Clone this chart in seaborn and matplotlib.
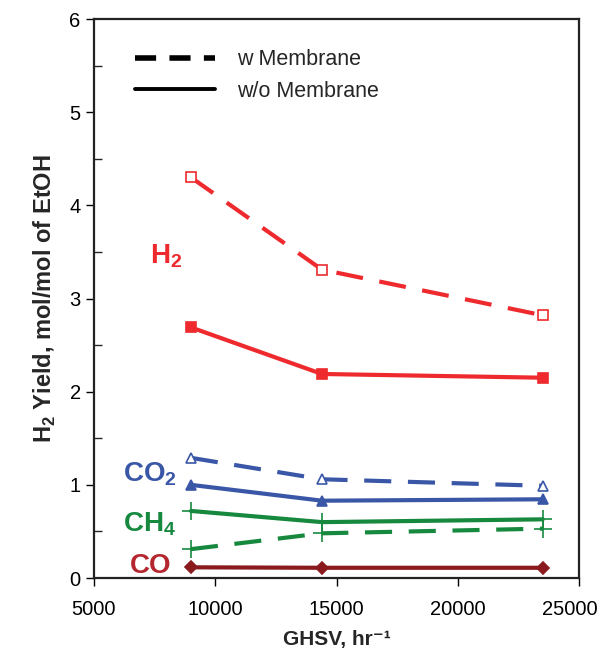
import pandas as pd
import matplotlib
matplotlib.use("Agg")
import matplotlib.pyplot as plt
import matplotlib.transforms as mtransforms
from matplotlib.ticker import MultipleLocator
from matplotlib.lines import Line2D
import seaborn as sns

# --- dados ---
ghsv = [9000, 14400, 23500]

h2_w = [4.30, 3.31, 2.82]
h2_wo = [2.69, 2.19, 2.15]
co2_w = [1.29, 1.06, 0.99]
co2_wo = [1.00, 0.83, 0.845]
ch4_w = [0.31, 0.48, 0.53]
ch4_wo = [0.72, 0.60, 0.63]
co_wo = [0.115, 0.11, 0.11]

RED = "#EE2A2E"
BLUE = "#3A57A7"
GREEN = "#16893F"
MAROON = "#8A1A1E"

# (valores, cor, marcador, preenchido, tracejado)
series = [
    (h2_w, RED, "s", False, True),
    (h2_wo, RED, "s", True, False),
    (co2_w, BLUE, "^", False, True),
    (co2_wo, BLUE, "^", True, False),
    (ch4_w, GREEN, "+", True, True),
    (ch4_wo, GREEN, "+", True, False),
    (co_wo, MAROON, "D", True, False),
]

sns.set_style("ticks")
plt.rcParams["font.family"] = ["Liberation Sans", "DejaVu Sans"]
plt.rcParams["mathtext.fontset"] = "custom"
plt.rcParams["mathtext.rm"] = "Liberation Sans"
plt.rcParams["mathtext.bf"] = "Liberation Sans:bold"

fig = plt.figure(figsize=(6.02, 6.6), dpi=100)
ax = fig.add_axes([0.156, 0.1242, 0.806, 0.847])

for vals, cor, mk, cheio, tracejado in series:
    df = pd.DataFrame({"GHSV": ghsv, "Yield": vals})
    sns.lineplot(data=df, x="GHSV", y="Yield", ax=ax, color=cor, lw=3,
                 marker=mk, markersize=6.5 if mk != "+" else 13,
                 markerfacecolor=cor if cheio else "white",
                 markeredgecolor=cor, markeredgewidth=1.2,
                 dashes=False, legend=False)
    if tracejado:
        ax.lines[-1].set_dashes((6.5, 4))

ax.set_xlim(5000, 25000)
ax.set_ylim(0, 6)
ax.set_xticks([5000, 10000, 15000, 20000, 25000])
ax.yaxis.set_major_locator(MultipleLocator(1))
ax.yaxis.set_minor_locator(MultipleLocator(0.5))
ax.tick_params(axis="both", which="major", direction="out", length=6,
               width=1, labelsize=14.5, colors="black")
ax.tick_params(axis="y", which="minor", direction="in", length=6, width=1)
ax.tick_params(axis="x", which="major", pad=10)
for s in ax.spines.values():
    s.set_linewidth(1.6)
    s.set_color("#222222")

# último rótulo do eixo x puxado para a esquerda (não cortar na borda)
fig.canvas.draw()
for lbl in ax.get_xticklabels():
    if lbl.get_text() == "25000":
        lbl.set_transform(lbl.get_transform() +
                          mtransforms.ScaledTranslation(-0.09, 0, fig.dpi_scale_trans))

ax.set_xlabel("GHSV, hr\u207b\u00b9", fontsize=15, fontweight="bold", labelpad=8)
ax.set_ylabel("H$_\\mathbf{2}$ Yield, mol/mol of EtOH", fontsize=17, fontweight="bold", labelpad=8)

# rótulos das espécies
rotulos = [("H$_\\mathbf{2}$", 7300, 3.45, RED),
           ("CO$_\\mathbf{2}$", 6200, 1.12, BLUE),
           ("CH$_\\mathbf{4}$", 6200, 0.58, GREEN),
           ("CO", 6500, 0.13, "#B5262E")]
for txt, x, y, cor in rotulos:
    ax.text(x, y, txt, color=cor, fontsize=20, fontweight="bold", va="center")

handles = [Line2D([0], [0], color="black", lw=4, dashes=(3.8, 2.4)),
           Line2D([0], [0], color="black", lw=2.8)]
ax.legend(handles, ["w Membrane", "w/o Membrane"], loc="upper left",
          bbox_to_anchor=(0.085, 0.946), borderaxespad=0, borderpad=0,
          frameon=False, fontsize=15.5,
          handlelength=3.7, handletextpad=1.05, labelspacing=0.5)

fig.savefig("out.png", dpi=100)
plt.close()
